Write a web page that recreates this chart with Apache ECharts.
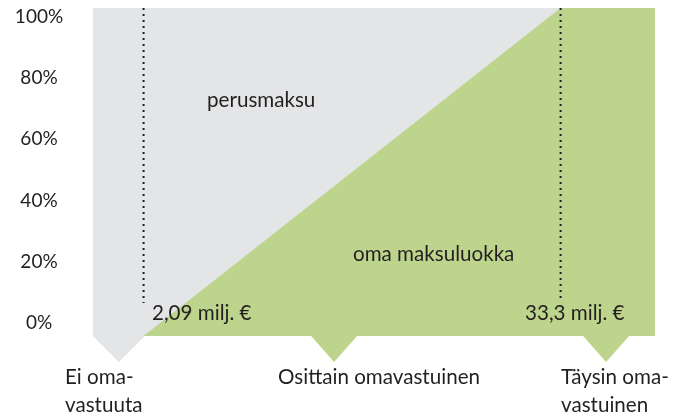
<!DOCTYPE html>
<html>
<head>
<meta charset="utf-8">
<script src="https://cdn.jsdelivr.net/npm/echarts@6/dist/echarts.min.js"></script>
<style>
    html, body { margin: 0; padding: 0; background: #fff; }
    #chart { width: 682px; height: 416px; }
</style>
</head>
<body>
<div id="chart"></div>
<script>
    // y-akseli: prosentit, vähän yli 0..100 jotta pinta täyttää koko alueen
    var yTicks = [0, 20, 40, 60, 80, 100];
    var yMin = -4.25, yMax = 102.9;
    // x-akseli 0..100 (suhteellinen asteikko)
    var greenArea = [[9, yMin], [83.2, yMax], [100, yMax]];   // oma maksuluokka
    var dotLow = [[9, yMax], [9, 6.5]];       // 2,09 milj. €
    var dotHigh = [[83.2, yMax], [83.2, 6.9]]; // 33,3 milj. €
    var pointerX = [4.6, 42.9, 91.3];
    var pointerY = -8.5;
    var pointerWidth = [52, 46, 46];

    var GREY = '#e4e5e7', GREEN = '#bcd48b', TXT = '#231f20';
    var FONT = 'Lato';

    function label(text, left, top) {
        return {
            type: 'text', left: left, top: top, z: 100,
            style: { text: text, font: '20.6px ' + FONT, fill: TXT, lineHeight: 28 }
        };
    }

    var myChart = echarts.init(document.getElementById('chart'));
    myChart.setOption({
        animation: false,
        textStyle: { fontFamily: FONT },
        grid: {
            left: 93, right: 27, top: 8, bottom: 80,
            show: true, backgroundColor: GREY, borderWidth: 0
        },
        xAxis: { type: 'value', min: 0, max: 100, show: false },
        yAxis: {
            type: 'value', min: yMin, max: yMax,
            axisLine: { show: false },
            axisTick: { show: false },
            splitLine: { show: false },
            axisLabel: {
                customValues: yTicks,
                formatter: '{value}%',
                align: 'center',
                margin: 54,
                fontSize: 19,
                color: TXT,
                fontFamily: FONT
            }
        },
        series: [
            {
                type: 'line',
                data: greenArea,
                symbol: 'none',
                lineStyle: { width: 0 },
                areaStyle: { color: GREEN, opacity: 1, origin: 'start' }
            },
            {
                type: 'line',
                data: dotLow,
                symbol: 'none',
                lineStyle: { color: TXT, width: 2, type: [2, 4] }
            },
            {
                type: 'line',
                data: dotHigh,
                symbol: 'none',
                lineStyle: { color: TXT, width: 2, type: [2, 4] }
            },
            {
                type: 'scatter',
                clip: false,
                symbol: 'triangle',
                symbolRotate: 180,
                data: pointerX.map(function (x, i) {
                    return {
                        value: [x, pointerY],
                        symbolSize: [pointerWidth[i], 26],
                        itemStyle: { color: i === 0 ? GREY : GREEN, opacity: 1 }
                    };
                })
            }
        ],
        graphic: [
            label('perusmaksu', 207, 86),
            label('oma maksuluokka', 353, 240),
            label('2,09 milj. €', 152, 299),
            label('33,3 milj. €', 525, 299),
            label('Ei oma-\nvastuuta', 65, 363),
            label('Osittain omavastuinen', 278, 363),
            label('Täysin oma-\nvastuinen', 561, 363)
        ]
    });
    window.onresize = myChart.resize;
</script>
</body>
</html>
